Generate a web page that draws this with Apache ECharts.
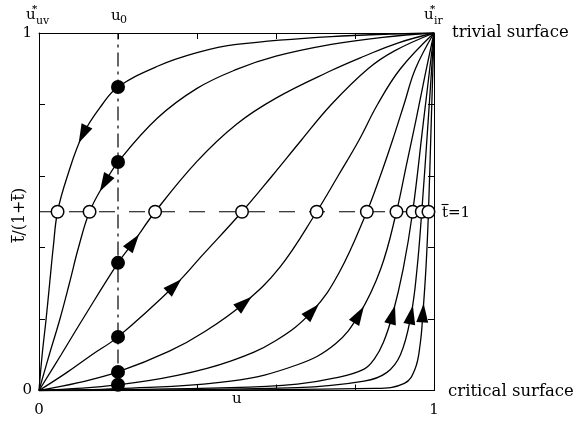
<!DOCTYPE html>
<html>
<head>
<meta charset="UTF-8">
<title>flow lines</title>
<script src="https://cdn.jsdelivr.net/npm/echarts@6/dist/echarts.min.js"></script>
<style>
  html, body { margin: 0; padding: 0; background: #fff; }
  #main { width: 579px; height: 421px; }
</style>
</head>
<body>
<div id="main"></div>
<script>
// flow lines, [u, t/(1+t)] pairs
var curve1 = [[0,0],[0.008,0.1],[0.018,0.2],[0.027,0.3],[0.036,0.4],[0.047,0.5],[0.072,0.6],[0.111,0.716],[0.16,0.8],[0.2,0.849],[0.3,0.907],[0.4,0.945],[0.5,0.968],[0.74,0.99],[1,1]];
var curve2 = [[0,0],[0.026,0.1],[0.053,0.2],[0.077,0.3],[0.10,0.4],[0.128,0.5],[0.166,0.58],[0.2,0.639],[0.3,0.762],[0.4,0.845],[0.5,0.898],[0.6,0.935],[0.74,0.968],[0.87,0.988],[1,1]];
var curve3 = [[0,0],[0.056,0.1],[0.111,0.2],[0.2,0.357],[0.239,0.415],[0.294,0.5],[0.4,0.641],[0.5,0.745],[0.6,0.818],[0.74,0.895],[0.823,0.935],[0.908,0.972],[1,1]];
var curve4 = [[0,0],[0.07,0.05],[0.134,0.1],[0.2,0.15],[0.343,0.293],[0.415,0.38],[0.514,0.5],[0.59,0.6],[0.664,0.7],[0.74,0.8],[0.833,0.9],[0.9,0.95],[1,1]];
var curve5 = [[0,0],[0.1,0.022],[0.2,0.052],[0.33,0.11],[0.42,0.165],[0.52,0.245],[0.61,0.345],[0.703,0.5],[0.757,0.6],[0.81,0.7],[0.857,0.8],[0.915,0.9],[1,1]];
var curve6 = [[0,0],[0.2,0.016],[0.35,0.042],[0.485,0.082],[0.6,0.14],[0.692,0.222],[0.76,0.33],[0.83,0.5],[0.864,0.6],[0.895,0.7],[0.924,0.8],[0.953,0.9],[1,1]];
var curve7 = [[0,0],[0.2,0.005],[0.485,0.026],[0.654,0.072],[0.75,0.13],[0.81,0.212],[0.865,0.34],[0.905,0.5],[0.93,0.63],[0.955,0.76],[0.977,0.88],[1,1]];
var curve8 = [[0,0],[0.485,0.008],[0.654,0.018],[0.75,0.035],[0.823,0.06],[0.85,0.09],[0.872,0.135],[0.895,0.212],[0.922,0.34],[0.946,0.5],[0.972,0.74],[1,1]];
var curve9 = [[0,0],[0.654,0.008],[0.823,0.026],[0.88,0.05],[0.915,0.1],[0.942,0.212],[0.957,0.34],[0.969,0.5],[0.985,0.75],[1,1]];
var curve10 = [[0,0],[0.85,0.006],[0.925,0.02],[0.952,0.06],[0.965,0.13],[0.972,0.217],[0.98,0.35],[0.986,0.5],[0.993,0.75],[1,1]];
var curves = [curve1, curve2, curve3, curve4, curve5, curve6, curve7, curve8, curve9, curve10];

// where each line crosses tbar = 1 (open circles)
var tOneU = [0.047, 0.128, 0.294, 0.514, 0.703, 0.83, 0.905, 0.946, 0.969, 0.986];
var tOneLevel = 0.5;
// starting points on u = u0 (filled circles)
var u0 = 0.2;
var startY = [0.849, 0.639, 0.357, 0.15, 0.052, 0.016];
// arrow heads: [line index, u, y, +1 = towards (1,1), -1 = towards origin]
var arrowPts = [[0,0.111,0.716,-1],[1,0.166,0.58,-1],[2,0.239,0.415,1],[3,0.343,0.293,1],[4,0.52,0.245,1],
                [5,0.692,0.222,1],[6,0.81,0.212,1],[7,0.895,0.212,1],[8,0.942,0.212,1],[9,0.972,0.217,1]];

var FONT = 'DejaVu Serif';
var measureCtx = document.createElement('canvas').getContext('2d');
function textW(s, font) { measureCtx.font = font; return measureCtx.measureText(s).width; }

function endLabel(v) {
  return (Math.abs(v) < 1e-9 || Math.abs(v - 1) < 1e-9) ? String(Math.round(v)) : '';
}

var axisCommon = {
  type: 'value', min: 0, max: 1, interval: 0.2,
  axisLine: { show: true, onZero: false, lineStyle: { color: '#000', width: 1 } },
  axisTick: { show: true, inside: true, length: 6, lineStyle: { color: '#000', width: 1 } },
  splitLine: { show: false }
};

var series = curves.map(function (c) {
  return {
    type: 'line', data: c, smooth: 0.4, symbol: 'none', z: 2,
    lineStyle: { color: '#000', width: 1.3 }
  };
});

series.push({
  type: 'line', data: [[u0, 0], [u0, 1]], symbol: 'none', z: 1,
  lineStyle: { color: '#000', width: 1.2, type: [14, 5, 3, 5] }
});
series.push({
  type: 'line', data: [[0, tOneLevel], [1, tOneLevel]], symbol: 'none', z: 1,
  lineStyle: { color: '#000', width: 1.2, type: [16, 14] }
});
series.push({
  type: 'scatter', z: 5, symbol: 'circle', symbolSize: 12.5,
  itemStyle: { color: '#fff', borderColor: '#000', borderWidth: 1.5, opacity: 1 },
  data: tOneU.map(function (u) { return [u, tOneLevel]; })
});
series.push({
  type: 'scatter', z: 5, symbol: 'circle', symbolSize: 14,
  itemStyle: { color: '#000', opacity: 1 },
  data: startY.map(function (y) { return [u0, y]; })
});
series.push({
  id: 'arrows', type: 'scatter', z: 6,
  symbol: 'path://M6,0 L12,19 L0,19 Z', symbolSize: [12, 19],
  itemStyle: { color: '#000', opacity: 1 },
  data: []
});

// text with an overbar on each 't' (tbar); drawn as text plus short lines
function barredText(str, font, cx, cy, rot, align) {
  var w = textW(str, font);
  var x0 = align === 'left' ? 0 : -w / 2;
  var kids = [{ type: 'text', x: x0, y: 0, style: { text: str, font: font, fill: '#000', verticalAlign: 'middle', align: 'left' } }];
  for (var i = 0; i < str.length; i++) {
    if (str[i] === 't') {
      var a = x0 + textW(str.slice(0, i), font);
      var b = a + textW('t', font);
      kids.push({ type: 'line', shape: { x1: a - 0.5, y1: -8.5, x2: b + 0.5, y2: -8.5 }, style: { stroke: '#000', lineWidth: 1.1 } });
    }
  }
  return { type: 'group', x: cx, y: cy, rotation: rot, children: kids };
}

var option = {
  animation: false,
  backgroundColor: '#fff',
  textStyle: { fontFamily: FONT },
  grid: { left: 39, top: 33, width: 395, height: 357.5, containLabel: false, outerBoundsMode: 'none' },
  xAxis: [
    Object.assign({}, axisCommon, {
      position: 'bottom',
      axisLabel: { show: true, margin: 12, color: '#000', fontSize: 15, fontFamily: FONT, formatter: endLabel }
    }),
    Object.assign({}, axisCommon, { position: 'top', axisLabel: { show: false } })
  ],
  yAxis: [
    Object.assign({}, axisCommon, {
      position: 'left',
      axisLabel: { show: true, margin: 7, color: '#000', fontSize: 15, fontFamily: FONT, formatter: endLabel }
    }),
    Object.assign({}, axisCommon, { position: 'right', axisLabel: { show: false } })
  ],
  graphic: [
    barredText('t/(1+t)', '16px ' + FONT, 20, 215, Math.PI / 2, 'center'),
    barredText('t=1', '15px ' + FONT, 442, 213, 0, 'left'),
    { type: 'text', left: 232, top: 392, style: { text: 'u', font: '15px ' + FONT, fill: '#000' } },
    { type: 'group', left: 26, top: 4, children: [
      { type: 'text', x: 0, y: 4, style: { text: 'u', font: '15px ' + FONT, fill: '#000' } },
      { type: 'text', x: 6, y: 0, style: { text: '*', font: 'bold 10px ' + FONT, fill: '#000' } },
      { type: 'text', x: 10, y: 12, style: { text: 'uv', font: '11px ' + FONT, fill: '#000' } }
    ] },
    { type: 'group', left: 111, top: 9, children: [
      { type: 'text', x: 0, y: 0, style: { text: 'u', font: '15px ' + FONT, fill: '#000' } },
      { type: 'text', x: 9, y: 6, style: { text: '0', font: '11px ' + FONT, fill: '#000' } }
    ] },
    { type: 'group', left: 424, top: 4, children: [
      { type: 'text', x: 0, y: 4, style: { text: 'u', font: '15px ' + FONT, fill: '#000' } },
      { type: 'text', x: 6, y: 0, style: { text: '*', font: 'bold 10px ' + FONT, fill: '#000' } },
      { type: 'text', x: 10, y: 12, style: { text: 'ir', font: '11px ' + FONT, fill: '#000' } }
    ] },
    { type: 'text', left: 452, top: 24, style: { text: 'trivial surface', font: '16.5px ' + FONT, fill: '#000' } },
    { type: 'text', left: 448, top: 383, style: { text: 'critical surface', font: '16.5px ' + FONT, fill: '#000' } }
  ],
  series: series
};

var chart = echarts.init(document.getElementById('main'));
chart.setOption(option);

// orient each arrow head along its line, using pixel positions of neighbouring points
var arrowData = arrowPts.map(function (a) {
  var pts = curves[a[0]];
  var here = chart.convertToPixel({ gridIndex: 0 }, [a[1], a[2]]);
  var best = 0, bestD = Infinity;
  for (var i = 0; i < pts.length; i++) {
    var p = chart.convertToPixel({ gridIndex: 0 }, pts[i]);
    var d = (p[0] - here[0]) * (p[0] - here[0]) + (p[1] - here[1]) * (p[1] - here[1]);
    if (d < bestD) { bestD = d; best = i; }
  }
  var p1 = chart.convertToPixel({ gridIndex: 0 }, pts[Math.max(best - 1, 0)]);
  var p2 = chart.convertToPixel({ gridIndex: 0 }, pts[Math.min(best + 1, pts.length - 1)]);
  var dx = (p2[0] - p1[0]) * a[3], dy = (p2[1] - p1[1]) * a[3];
  var ang = Math.atan2(-dy, dx) * 180 / Math.PI;
  return { value: [a[1], a[2]], symbolRotate: ang - 90 };
});
chart.setOption({ series: [{ id: 'arrows', data: arrowData }] });
</script>
</body>
</html>
